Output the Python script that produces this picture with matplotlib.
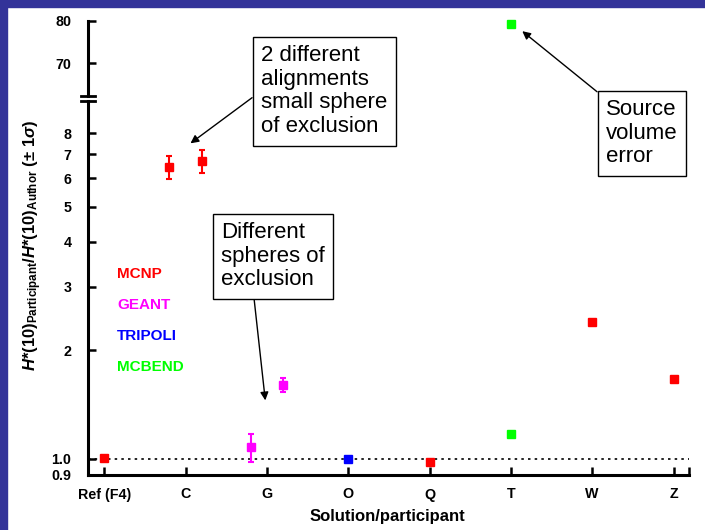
import matplotlib
matplotlib.use('Agg')
import matplotlib.pyplot as plt
from matplotlib.patches import Rectangle

plt.rcParams['font.family'] = ['Liberation Sans', 'DejaVu Sans']
plt.rcParams['mathtext.fontset'] = 'custom'
plt.rcParams['mathtext.rm'] = 'Liberation Sans:bold'
plt.rcParams['mathtext.it'] = 'Liberation Sans:italic:bold'
plt.rcParams['mathtext.bf'] = 'Liberation Sans:bold'

# participants on the x axis
categories = ['Ref (F4)', 'C', 'G', 'O', 'Q', 'T', 'W', 'Z']

# codes and their colours
codes = ['MCNP', 'GEANT', 'TRIPOLI', 'MCBEND']
code_colors = ['#ff0000', '#ff00ff', '#0000ff', '#00ff00']

# each point: participant, code, slot (-1 left / 0 centre / 1 right), ratio, -err, +err
pt_cat = ['Ref (F4)', 'C', 'C', 'G', 'G', 'O', 'Q', 'T', 'T', 'W', 'Z']
pt_code = ['MCNP', 'MCNP', 'MCNP', 'GEANT', 'GEANT', 'TRIPOLI', 'MCNP',
           'MCBEND', 'MCBEND', 'MCNP', 'MCNP']
pt_slot = [0, -1, 1, -1, 1, 0, 0, 0, 0, 0, 0]
pt_val = [1.006, 6.43, 6.70, 1.077, 1.605, 0.996, 0.975, 1.17, 79.2, 2.40, 1.66]
pt_err_lo = [0, 0.47, 0.49, 0.099, 0.074, 0, 0, 0, 0, 0, 0]
pt_err_hi = [0, 0.49, 0.48, 0.093, 0.068, 0, 0, 0, 0, 0, 0]

low_ticks = [0.9, 1.0, 2, 3, 4, 5, 6, 7, 8]
low_labels = ['0.9', '1.0', '2', '3', '4', '5', '6', '7', '8']
high_ticks = [70, 80]

W, H = 705, 530
fig = plt.figure(figsize=(W / 100, H / 100), dpi=100, facecolor='white')

# navy slide border (left and top)
fig.patches.append(Rectangle((0, 0), 7 / W, 1, transform=fig.transFigure,
                             color='#333399', zorder=0))
fig.patches.append(Rectangle((0, 1 - 7 / H), 1, 7 / H, transform=fig.transFigure,
                             color='#333399', zorder=0))

x0, x1 = 88 / W, 689 / W
ax = fig.add_axes([x0, (H - 475) / H, x1 - x0, (475 - 101) / H])
ax_hi = fig.add_axes([x0, (H - 95.7) / H, x1 - x0, (95.7 - 21) / H])

xmin, xmax = -0.2, len(categories) - 1 + 0.19
for a in (ax, ax_hi):
    a.set_xlim(xmin, xmax)
    a.patch.set_alpha(0)
    for s in ('top', 'right'):
        a.spines[s].set_visible(False)
    a.spines['left'].set_linewidth(2.2)
    a.tick_params(axis='both', direction='in', length=6, width=1.8,
                  labelsize=10.3)

ax.set_yscale('log')
ax.set_ylim(0.9, 9.83)
ax.set_yticks(low_ticks)
ax.set_yticklabels(low_labels, fontweight='bold')
ax.yaxis.set_minor_locator(matplotlib.ticker.NullLocator())
ax.spines['bottom'].set_linewidth(2.2)
ax.set_xticks(range(len(categories)))
ax.set_xticklabels(categories, fontweight='bold')
ax.set_xticks([xmax], minor=True)
ax.tick_params(axis='x', which='minor', direction='in', length=6, width=1.8)
ax.tick_params(axis='y', pad=12)
ax.tick_params(axis='x', pad=9)

ax_hi.set_ylim(62.4, 80)
ax_hi.set_yticks(high_ticks)
ax_hi.set_yticklabels([str(t) for t in high_ticks], fontweight='bold')
ax_hi.spines['bottom'].set_visible(False)
ax_hi.set_xticks([])
ax_hi.tick_params(axis='y', pad=12)

# axis break marks
ax_hi.plot([-0.011, 0.011], [0, 0], transform=ax_hi.transAxes, color='black',
           lw=2, clip_on=False)
ax.plot([-0.011, 0.011], [1, 1], transform=ax.transAxes, color='black',
        lw=2, clip_on=False)

# reference line
ax.axhline(1.0, color='black', ls=(0, (1.5, 2.5)), lw=1.2, zorder=1)

for cat, code, slot, v, lo, hi in zip(pt_cat, pt_code, pt_slot, pt_val,
                                      pt_err_lo, pt_err_hi):
    xi = categories.index(cat) + 0.2 * slot
    col = code_colors[codes.index(code)]
    target = ax_hi if v > 50 else ax
    if lo or hi:
        target.errorbar([xi], [v], yerr=[[lo], [hi]], fmt='s', color=col,
                        ms=6, capsize=2, elinewidth=1.5, capthick=1.5,
                        zorder=3, clip_on=False)
    else:
        target.plot([xi], [v], 's', color=col, ms=6, zorder=3, clip_on=False)

# code legend
for i, (code, col) in enumerate(zip(codes, code_colors)):
    fig.text(117 / W, 1 - (274 + 31 * i) / H, code, color=col, fontsize=11,
             fontweight='bold', ha='left', va='center')

fig.text(33 / W, 1 - 245 / H,
         r'$H$*(10)$_{\mathrm{Participant}}$/$H$*(10)$_{\mathrm{Author}}$ (± 1$\sigma$)',
         rotation=90, ha='center', va='center', fontsize=12, fontweight='bold')
fig.text(387 / W, 1 - 517 / H, 'Solution/participant', ha='center',
         va='center', fontsize=12, fontweight='bold')

box = dict(boxstyle='square,pad=0.38', fc='white', ec='black', lw=1)
arrow = dict(arrowstyle='-|>', color='black', lw=1, mutation_scale=12,
             shrinkA=0, shrinkB=0)

ax.annotate('2 different\nalignments\nsmall sphere\nof exclusion',
            xy=(1.06, 7.5), xycoords='data',
            xytext=(261, H - 45), textcoords='figure pixels',
            ha='left', va='top', fontsize=16, linespacing=1.17, bbox=box,
            arrowprops=dict(arrow, relpos=(0, 0.5)), annotation_clip=False)
ax.annotate('Different\nspheres of\nexclusion',
            xy=(1.98, 1.45), xycoords='data',
            xytext=(221, H - 222), textcoords='figure pixels',
            ha='left', va='top', fontsize=16, linespacing=1.17, bbox=box,
            arrowprops=dict(arrow, relpos=(0.31, 0)), annotation_clip=False)
ax_hi.annotate('Source\nvolume\nerror',
               xy=(5.14, 77.6), xycoords='data',
               xytext=(606, H - 99), textcoords='figure pixels',
               ha='left', va='top', fontsize=16, linespacing=1.17, bbox=box,
               arrowprops=dict(arrow, relpos=(0, 1)), annotation_clip=False)

fig.savefig('out.png', dpi=100, facecolor='white')
